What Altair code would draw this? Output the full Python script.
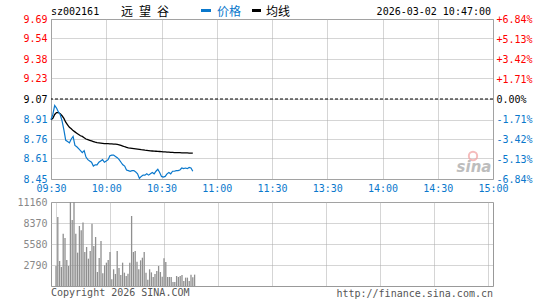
import altair as alt
import pandas as pd

# ---------------- data ----------------
minutes = list(range(78))  # minutes since 09:30 (09:30 .. 10:47)
price = [8.91, 8.95, 9.02, 9.00, 8.97, 8.95, 8.90, 8.83, 8.75, 8.74,
         8.73, 8.76, 8.78, 8.71, 8.70, 8.685, 8.67, 8.655, 8.67, 8.62,
         8.60, 8.59, 8.58, 8.55, 8.56, 8.56, 8.58, 8.59, 8.60, 8.58,
         8.59, 8.60, 8.63, 8.635, 8.635, 8.625, 8.615, 8.60, 8.58, 8.56,
         8.55, 8.52, 8.515, 8.51, 8.515, 8.515, 8.505, 8.49, 8.455, 8.47,
         8.48, 8.48, 8.49, 8.48, 8.49, 8.50, 8.49, 8.51, 8.525, 8.50,
         8.47, 8.465, 8.47, 8.49, 8.50, 8.49, 8.51, 8.51, 8.515, 8.515,
         8.52, 8.535, 8.53, 8.535, 8.53, 8.54, 8.535, 8.51]
avg = [8.91, 8.92, 8.95, 8.965, 8.965, 8.955, 8.94, 8.92, 8.89, 8.87,
       8.85, 8.84, 8.825, 8.815, 8.805, 8.795, 8.785, 8.78, 8.77, 8.76,
       8.755, 8.75, 8.745, 8.74, 8.735, 8.732, 8.73, 8.728, 8.726, 8.724,
       8.724, 8.724, 8.723, 8.722, 8.721, 8.72, 8.718, 8.715, 8.71, 8.705,
       8.70, 8.696, 8.692, 8.69, 8.688, 8.686, 8.684, 8.682, 8.68, 8.677,
       8.675, 8.673, 8.672, 8.67, 8.668, 8.667, 8.666, 8.665, 8.664, 8.663,
       8.662, 8.661, 8.66, 8.659, 8.658, 8.657, 8.656, 8.655, 8.655, 8.654,
       8.654, 8.653, 8.653, 8.652, 8.652, 8.651, 8.651, 8.65]
volume = [2660, 9170, 3320, 2530, 6950, 6380, 3460, 2660, 11160, 8770,
          11160, 6950, 4430, 7970, 7400, 8420, 4520, 5180, 3630, 4650,
          8280, 5320, 6510, 1860, 3720, 5980, 1690, 2750, 3100, 3460,
          4520, 890, 2220, 1600, 4650, 2390, 1460, 3100, 1770, 1330,
          1640, 3100, 9300, 4520, 4650, 3230, 2220, 3410, 3760, 4520,
          1770, 840, 2220, 1810, 1200, 1600, 1990, 2660, 1860, 1240,
          3680, 3190, 1200, 1200, 1200, 530, 530, 1330, 1200, 1330,
          1460, 660, 1110, 1110, 660, 1510, 1150, 1510]

prev_close = 9.07
price_ticks = [8.45, 8.61, 8.76, 8.91, 9.07, 9.23, 9.38, 9.54, 9.69]
pct_ticks = [-6.84, -5.13, -3.42, -1.71, 0.0, 1.71, 3.42, 5.13, 6.84]
vol_ticks = [2790, 5580, 8370, 11160]
time_ticks = [0, 30, 60, 90, 120, 150, 180, 210, 240]
time_labels = ["09:30", "10:00", "10:30", "11:00", "11:30",
               "13:30", "14:00", "14:30", "15:00"]

code = "sz002161"
name = "远\u2002望\u2002谷"
legend_price = "价格"
legend_avg = "均线"
stamp = "2026-03-02 10:47:00"
copyright_txt = "Copyright 2026 SINA.COM"
url_txt = "http://finance.sina.com.cn"

# ---------------- style ----------------
RED = "#ff0000"
BLUE = "#0a78cc"
GRID = "#aaaaaa"
FRAME = "#999999"
GRAY = "#888888"
MONO = "DejaVu Sans Mono"
CJK = "Noto Sans CJK SC"

df = pd.DataFrame({"m": minutes, "price": price, "avg": avg, "vol": volume})

label_expr = "[" + ",".join(f"'{t}'" for t in time_labels) + "][round(datum.value / 30)]"
x_scale = alt.Scale(domain=[0, 240], nice=False, zero=False)

top_x = alt.X("m:Q", scale=x_scale, axis=alt.Axis(
    values=time_ticks, labelExpr=label_expr, title=None, domain=False, ticks=False,
    grid=True, gridColor=GRID, gridDash=[1, 1], labelColor=BLUE, labelFont=MONO,
    labelFontSize=10, labelPadding=4, labelOverlap=False, labelFlush=False,
    labelBound=False))

price_scale = alt.Scale(domain=[price_ticks[0], price_ticks[-1]], nice=False, zero=False)
price_color = {"condition": [
    {"test": f"datum.value > {prev_close} + 0.005", "value": RED},
    {"test": f"datum.value < {prev_close} - 0.005", "value": BLUE}],
    "value": "#000000"}
price_axis = alt.Axis(values=price_ticks, format=".2f", title=None, domain=False,
                      ticks=False, grid=True, gridColor=GRID, gridDash=[1, 1],
                      labelColor=price_color, labelFont=MONO, labelFontSize=10,
                      labelPadding=4)

price_line = alt.Chart(df).mark_line(color=BLUE, strokeWidth=1.2).encode(
    x=top_x, y=alt.Y("price:Q", scale=price_scale, axis=price_axis))
avg_line = alt.Chart(df).mark_line(color="#000000", strokeWidth=1.3).encode(
    x=top_x, y=alt.Y("avg:Q", scale=price_scale, axis=price_axis))
close_rule = alt.Chart(pd.DataFrame({"v": [prev_close]})).mark_rule(
    color="#000000", strokeDash=[3, 2], strokeWidth=1).encode(
    y=alt.Y("v:Q", scale=price_scale, axis=price_axis))

price_core = alt.layer(close_rule, avg_line, price_line)

pct_color = {"condition": [
    {"test": "datum.value > 0.001", "value": RED},
    {"test": "datum.value < -0.001", "value": BLUE}],
    "value": "#000000"}
pct_layer = alt.Chart(pd.DataFrame({"pct": pct_ticks})).mark_point(opacity=0).encode(
    y=alt.Y("pct:Q", scale=alt.Scale(domain=[pct_ticks[0], pct_ticks[-1]], nice=False, zero=False),
            axis=alt.Axis(orient="right", values=pct_ticks, title=None, domain=False, ticks=False,
                          grid=False, labelColor=pct_color, labelFont=MONO, labelFontSize=10,
                          labelPadding=3,
                          labelExpr="(datum.value > 0.001 ? '+' : datum.value < -0.001 ? '-' : '') + format(abs(datum.value), '.2f') + '%'")))


def label(txt, x, y, color="#000000", size=10, font=MONO, align="left", **kw):
    return alt.Chart(pd.DataFrame({"t": [txt]})).mark_text(
        align=align, baseline="middle", font=font, fontSize=size, color=color, **kw
    ).encode(x=alt.value(x), y=alt.value(y), text="t:N")


def dash(x1, x2, y, color):
    return alt.Chart(pd.DataFrame({"t": [0]})).mark_rule(color=color, strokeWidth=3).encode(
        x=alt.value(x1), x2=alt.value(x2), y=alt.value(y))


anchor = alt.Chart(pd.DataFrame({"t": [0]})).mark_rule(opacity=0, strokeWidth=0).encode(
    x=alt.value(-50), x2=alt.value(-49), y=alt.value(-18), y2=alt.value(-18))

header = [
    label(code, 0, -7),
    label(name, 70, -7, size=12, font=CJK),
    dash(150, 160, -8.5, BLUE),
    label(legend_price, 166, -7, color=BLUE, size=12, font=CJK),
    dash(201, 210, -8.5, "#000000"),
    label(legend_avg, 215, -7, size=12, font=CJK),
    label(stamp, 440, -7, align="right"),
]

logo_eye = alt.Chart(pd.DataFrame({"t": [0]})).mark_point(
    shape="circle", size=70, color="#f2a0a0", strokeWidth=2, opacity=0.7).encode(
    x=alt.value(422), y=alt.value(137))
logo_txt = label("sina", 423, 148, color="#bdbdbd", size=15,
                 font="DejaVu Sans", align="center", fontStyle="italic", fontWeight="bold")

top = alt.layer(price_core, pct_layer, anchor, logo_eye, logo_txt, *header).resolve_scale(
    y="independent").properties(width=442, height=160)

bars = alt.Chart(df).mark_bar(size=1.3, color="#8f8f8f").encode(
    x=alt.X("m:Q", scale=x_scale, axis=alt.Axis(
        values=time_ticks, labels=False, ticks=False, domain=False, grid=True,
        gridColor=GRID, gridDash=[1, 1], title=None)),
    y=alt.Y("vol:Q", scale=alt.Scale(domain=[0, vol_ticks[-1]], nice=False, clamp=True),
            axis=alt.Axis(values=vol_ticks, format="d", title=None, domain=False, ticks=False,
                          grid=True, gridColor=GRID, gridDash=[1, 1], labelColor=GRAY,
                          labelFont=MONO, labelFontSize=10, labelPadding=4)))

vol_chart = alt.layer(
    bars,
    label(copyright_txt, 0, 91, color="#555555"),
    label(url_txt, 442, 92, color="#555555", align="right"),
).properties(width=442, height=84)

chart = alt.vconcat(top, vol_chart, spacing=23, bounds="flush").properties(
    padding=0, background="#ffffff"
).configure_view(stroke=FRAME, strokeWidth=1)

chart.save("out.html", embed_options={"renderer": "svg", "actions": False})
